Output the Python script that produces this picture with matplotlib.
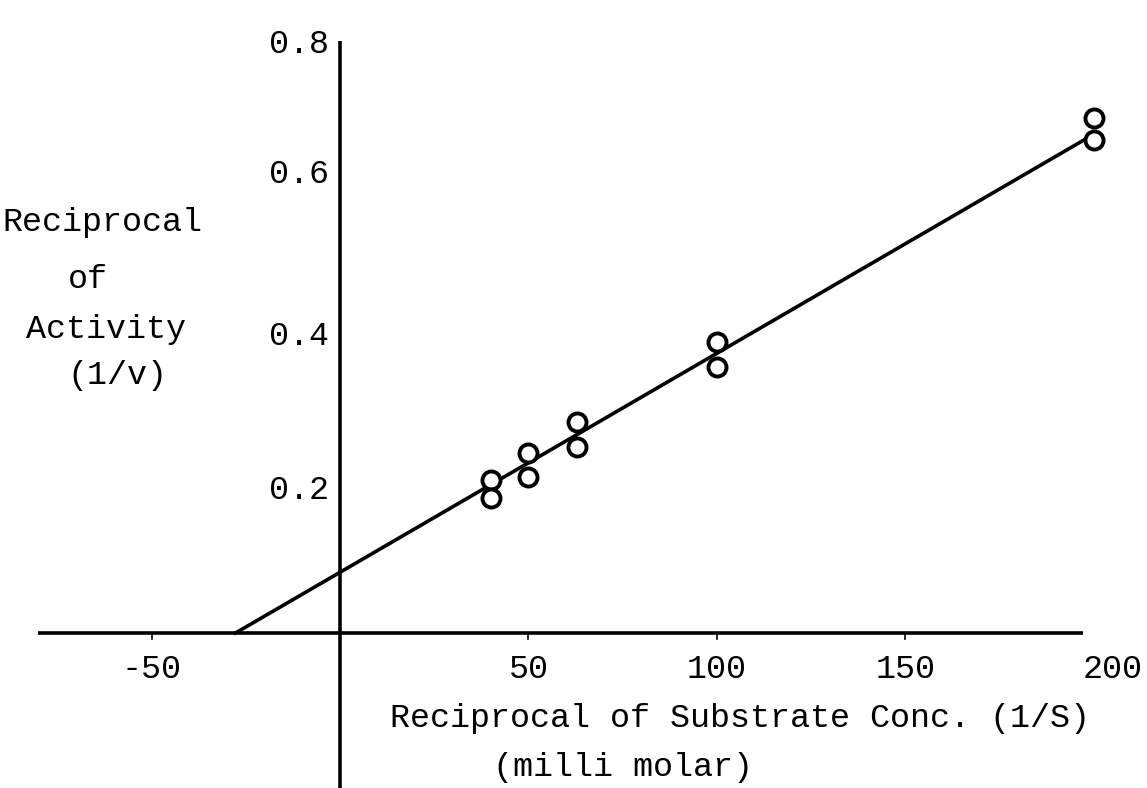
import matplotlib
matplotlib.use("Agg")
import matplotlib.pyplot as plt

# Lineweaver-Burk data
inv_s = [40, 40, 50, 50, 63, 63, 100, 100, 200, 200]          # 1/S (mM^-1)
inv_v = [0.207, 0.182, 0.243, 0.211, 0.285, 0.251, 0.393, 0.359, 0.696, 0.666]

# fitted line: 1/v = slope * (1/S) + intercept
intercept = 0.082
slope = 0.00296
line_end = 198

x_ticks = [-50, 50, 100, 150, 200]
x_tick_labels = ["-50", "50", "100", "150", "200"]
y_ticks = [0.2, 0.4, 0.6, 0.8]
y_tick_labels = ["0.2", "0.4", "0.6", "0.8"]
y_label_shift = [-0.007, 0.0, 0.019, -0.005]   # typed labels sit a little off the scale

font = "Liberation Mono"
fs = 24

fig = plt.figure(figsize=(11.47, 7.88), dpi=100)
ax = fig.add_axes([0, 0, 1, 1])
ax.set_xlim(-90.2, 214.1)
ax.set_ylim(-0.2095, 0.8554)
ax.axis("off")

# axes drawn through the origin
ax.plot([-80, 197], [0, 0], color="black", lw=2.6, solid_capstyle="butt")
ax.plot([0, 0], [-0.25, 0.80], color="black", lw=2.6, solid_capstyle="butt")

# small tick marks under the x axis
for t in x_ticks[:-1]:
    ax.plot([t, t], [0, -0.008], color="black", lw=1.2)

# fitted line
x0 = -intercept / slope
ax.plot([x0, line_end], [0, slope * line_end + intercept], color="black", lw=2.6)

# data points
ax.plot(inv_s, inv_v, "o", ms=13, mfc="white", mec="black", mew=2.8)

# tick labels
for t, lab in zip(x_ticks, x_tick_labels):
    dx = 5 if t == 200 else 0
    ax.text(t + dx, -0.05, lab, ha="center", va="center", family=font, fontsize=fs)
for t, lab, sh in zip(y_ticks, y_tick_labels, y_label_shift):
    ax.text(-3, t + sh, lab, ha="right", va="center", family=font, fontsize=fs)

# axis titles
ax.text(106, -0.115, "Reciprocal of Substrate Conc. (1/S)", ha="center", va="center",
        family=font, fontsize=fs)
ax.text(75, -0.182, "(milli molar)", ha="center", va="center", family=font, fontsize=fs)

ylab = [("Reciprocal", -63, 0.555), ("of", -67, 0.478), ("Activity", -62, 0.410),
        ("(1/v)", -59, 0.348)]
for txt, x, y in ylab:
    ax.text(x, y, txt, ha="center", va="center", family=font, fontsize=fs)

fig.savefig("out.png", dpi=100)
